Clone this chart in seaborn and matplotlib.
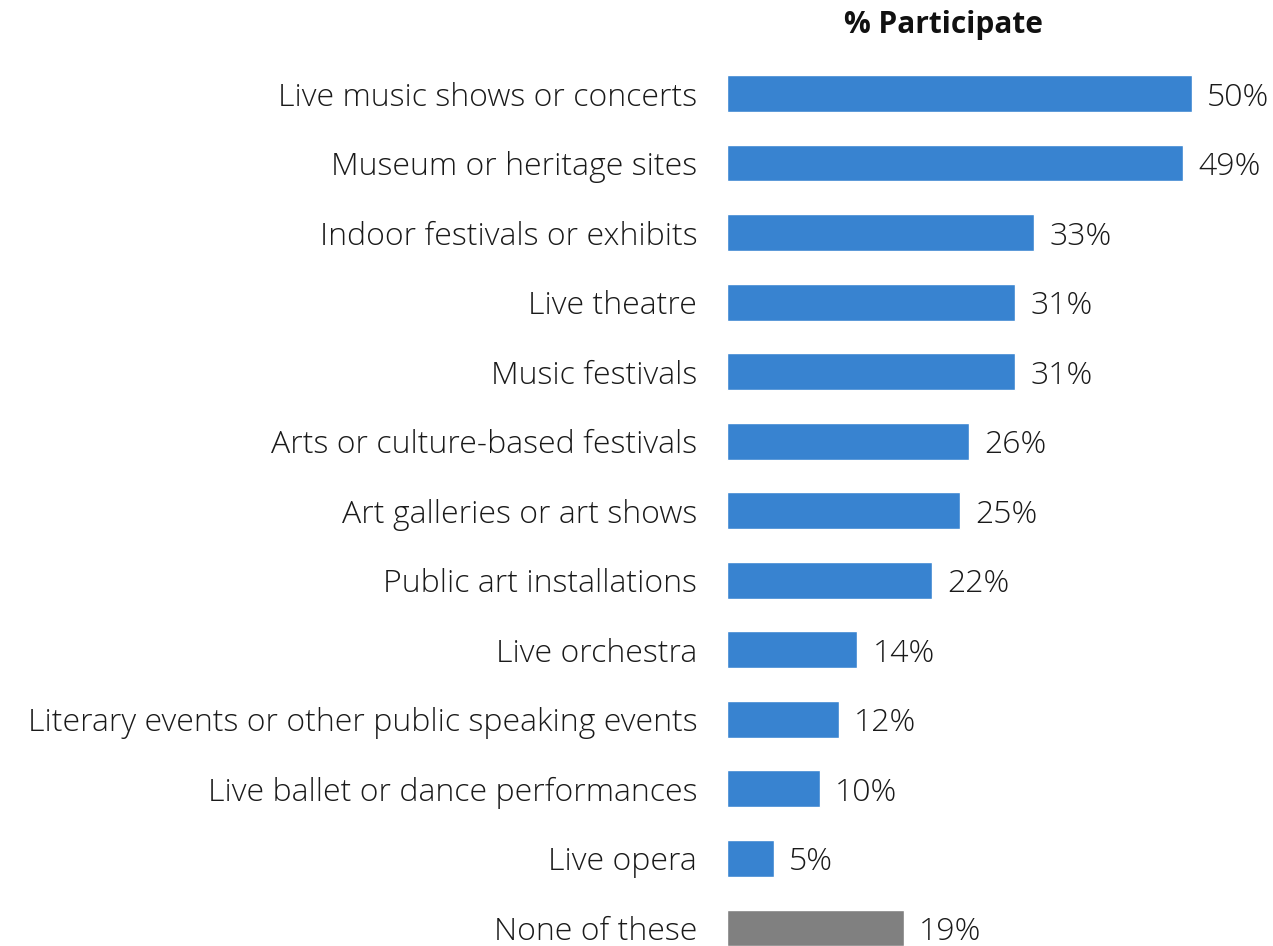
import matplotlib
matplotlib.use("Agg")
import matplotlib.pyplot as plt
import seaborn as sns
import pandas as pd

categories = [
    "Live music shows or concerts",
    "Museum or heritage sites",
    "Indoor festivals or exhibits",
    "Live theatre",
    "Music festivals",
    "Arts or culture-based festivals",
    "Art galleries or art shows",
    "Public art installations",
    "Live orchestra",
    "Literary events or other public speaking events",
    "Live ballet or dance performances",
    "Live opera",
    "None of these",
]
values = [50, 49, 33, 31, 31, 26, 25, 22, 14, 12, 10, 5, 19]

BLUE = "#3883D0"
GREY = "#808080"
colors = {c: (GREY if c == "None of these" else BLUE) for c in categories}

sns.set_theme(style="white")
plt.rcParams["font.family"] = ["Open Sans", "DejaVu Sans"]

df = pd.DataFrame({"activity": categories, "pct": values})

W, H = 1273, 946
fig = plt.figure(figsize=(W / 100, H / 100), dpi=100)

px_per_pct = 9.3
row_px = 69.5
top_px = 93.5 - row_px / 2
left_px = 727
ax = fig.add_axes([left_px / W, 0, (W - left_px) / W, (H - top_px) / H])

sns.barplot(data=df, x="pct", y="activity", hue="activity", palette=colors,
            legend=False, width=0.53, ax=ax, saturation=1)

ax.set_xlim(0, (W - left_px) / px_per_pct)
n = len(categories)
ax.set_ylim(n - 1 + (H - 928) / row_px, -0.5)

TEXT = "#1a1a1a"
for cont in ax.containers:
    texts = ax.bar_label(cont, labels=[f"{v:.0f}%" for v in cont.datavalues],
                         padding=11, fontsize=23, color=TEXT, fontweight="light")
    for t in texts:
        t.set_verticalalignment("center_baseline")

ax.set_xlabel("")
ax.set_ylabel("")
ax.set_xticks([])
ax.tick_params(axis="y", length=0, pad=21.5, labelsize=23, labelcolor=TEXT)
for lbl in ax.get_yticklabels():
    lbl.set_fontweight("light")
    lbl.set_verticalalignment("center_baseline")
sns.despine(ax=ax, left=True, bottom=True, top=True, right=True)

fig.text(943 / W, 1 - 21 / H, "% Participate", ha="center", va="center_baseline",
         fontsize=21.5, fontweight="bold", color="#111111")

fig.savefig("out.png", dpi=100)
